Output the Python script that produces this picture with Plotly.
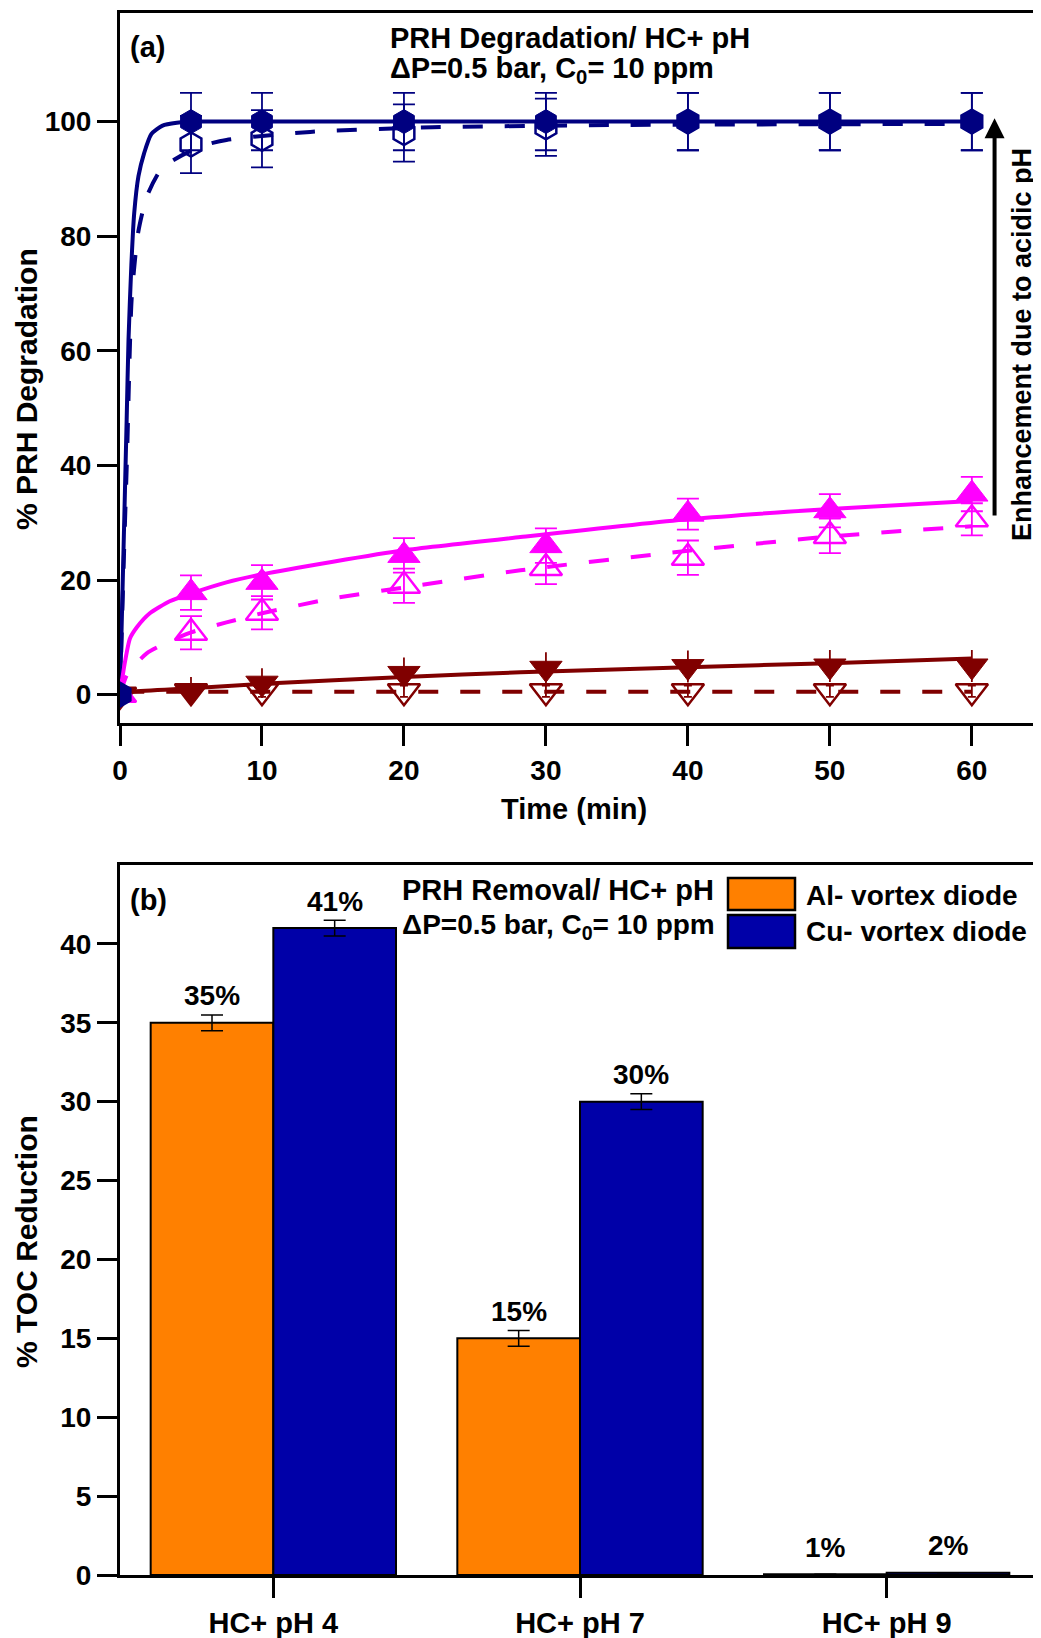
import plotly.graph_objects as go

# page body has an 8px default margin; the figure is placed at (8, 8)
OFF = 8
W, H = 1041 - OFF, 1638 - OFF
FONT = "Liberation Sans, Arial, sans-serif"

# ---------------- Panel (a): % PRH degradation vs time ----------------
time_min = [0, 5, 10, 20, 30, 40, 50, 60]

cu_ph4 = [0, 100, 100, 100, 100, 100, 100, 100]
cu_ph4_err = [0, 5, 5, 5, 5, 5, 5, 5]
al_ph4 = [0, 96, 97, 98, 99, 100, 100, 100]
al_ph4_err = [0, 5, 5, 5, 5, 5, 5, 5]

cu_ph7 = [0, 17.8, 19.6, 24.3, 26.0, 31.5, 32.1, 35.0]
cu_ph7_err = [0, 3, 3, 3, 3, 2.7, 2.9, 3]
al_ph7 = [0, 10.8, 14.3, 19.0, 22.1, 23.9, 27.7, 30.6]
al_ph7_err = [0, 2.9, 2.9, 3, 2.8, 3, 3, 2.8]

cu_ph9 = [0, 0.6, 2.0, 3.7, 4.6, 4.9, 5.0, 5.0]
cu_ph9_err = [0, 2.5, 2.6, 2.8, 2.8, 2.8, 2.8, 2.8]
al_ph9 = [0, 0.6, 0.6, 0.6, 0.6, 0.6, 0.6, 0.6]
al_ph9_err = [0, 1, 1, 1, 1, 1, 1, 1]

# fitted curves
fit_cu_ph4_t = [0, 0.23, 0.47, 0.6, 0.8, 1.0, 1.3, 1.7, 2.2, 3, 4, 5, 60]
fit_cu_ph4_y = [0, 23.5, 48, 62, 75, 84, 90.5, 94.5, 97.8, 99.3, 99.8, 100, 100]
fit_al_ph4_t = [0, 0.25, 0.5, 0.82, 1.27, 1.9, 3, 5.6, 7.5, 13.4, 22, 35, 60]
fit_al_ph4_y = [0, 22, 42, 69, 80.5, 87, 92, 95.6, 96.8, 98.2, 99, 99.4, 99.6]
fit_cu_ph7_t = [0, 0.3, 0.7, 1.2, 2.1, 3.5, 5.05, 7.5, 10, 15, 20, 28.2, 40, 50, 60]
fit_cu_ph7_y = [0, 5, 9.8, 11.8, 14.2, 16.3, 17.7, 19.6, 21, 23.2, 25.2, 27.5, 30.6, 32.4, 33.8]
fit_al_ph7_t = [0, 0.5, 1.88, 3.5, 5.05, 7.5, 10, 15, 20, 28.2, 40, 50, 60]
fit_al_ph7_y = [0, 3.5, 7.2, 9.3, 10.9, 12.6, 14.2, 16.8, 18.7, 21.7, 25.1, 27.6, 29.4]
fit_cu_ph9_t = [0, 0.9, 5, 10, 20, 28.2, 40, 50, 60]
fit_cu_ph9_y = [0, 0.5, 1.1, 1.9, 3.1, 3.9, 4.8, 5.5, 6.3]
fit_al_ph9_t = [0.3, 60]
fit_al_ph9_y = [0.5, 0.5]

# ---------------- Panel (b): % TOC reduction ----------------
categories = ["HC+ pH 4", "HC+ pH 7", "HC+ pH 9"]
al_toc = [35, 15, 0.05]
cu_toc = [41, 30, 0.15]
al_toc_err = [0.5, 0.5, 0]
cu_toc_err = [0.5, 0.5, 0]
al_labels = ["35%", "15%", "1%"]
cu_labels = ["41%", "30%", "2%"]

NAVY = "#000080"
MAG = "#FF00FF"
DRED = "#800000"
ORANGE = "#FF8000"
BLUE = "#0000A8"


def px(xp):
    return (xp - OFF) / W


def py(yp):
    return 1 - (yp - OFF) / H


fig = go.Figure()

fits = [
    (fit_cu_ph4_t, fit_cu_ph4_y, NAVY, "solid"),
    (fit_al_ph4_t, fit_al_ph4_y, NAVY, "20px,22px"),
    (fit_cu_ph7_t, fit_cu_ph7_y, MAG, "solid"),
    (fit_al_ph7_t, fit_al_ph7_y, MAG, "20px,22px"),
    (fit_cu_ph9_t, fit_cu_ph9_y, DRED, "solid"),
    (fit_al_ph9_t, fit_al_ph9_y, DRED, "20px,22px"),
]
for t, y, c, d in fits:
    fig.add_trace(go.Scatter(x=t, y=y, mode="lines",
                             line=dict(color=c, width=4, dash=d, shape="spline", smoothing=0.6),
                             showlegend=False, hoverinfo="skip", xaxis="x", yaxis="y"))


def pts(y, err, color, symbol, open_, capw=11):
    return go.Scatter(
        x=time_min, y=y, mode="markers", showlegend=False,
        marker=dict(symbol=symbol, size=24 if "hexagon" in symbol else 28,
                    color=color, line=dict(color=color, width=2.5 if open_ else 1)),
        error_y=dict(type="data", array=err, color=color, thickness=1.8, width=capw),
        xaxis="x", yaxis="y")


fig.add_trace(pts(al_ph9, al_ph9_err, DRED, "triangle-down-open", True, 4))
fig.add_trace(pts(cu_ph9, cu_ph9_err, DRED, "triangle-down", False, 0))
fig.add_trace(pts(al_ph7, al_ph7_err, MAG, "triangle-up-open", True))
fig.add_trace(pts(cu_ph7, cu_ph7_err, MAG, "triangle-up", False))
fig.add_trace(pts(al_ph4, al_ph4_err, NAVY, "hexagon-open", True))
fig.add_trace(pts(cu_ph4, cu_ph4_err, NAVY, "hexagon", False))

fig.add_trace(go.Bar(x=categories, y=al_toc, name="Al- vortex diode",
                     marker=dict(color=ORANGE, line=dict(color="black", width=2)),
                     error_y=dict(type="data", array=al_toc_err, color="black", thickness=1.5, width=11),
                     showlegend=False, xaxis="x2", yaxis="y2"))
fig.add_trace(go.Bar(x=categories, y=cu_toc, name="Cu- vortex diode",
                     marker=dict(color=BLUE, line=dict(color="black", width=2)),
                     error_y=dict(type="data", array=cu_toc_err, color="black", thickness=1.5, width=11),
                     showlegend=False, xaxis="x2", yaxis="y2"))


def axis_common(size=28):
    return dict(showline=True, linecolor="black", linewidth=3, mirror=True, ticks="outside",
                ticklen=20, tickwidth=3, tickcolor="black", showgrid=False, zeroline=False,
                tickfont=dict(family=FONT, size=size, color="black", weight="bold"), automargin=False)


xd = [px(120), px(1040)]
fig.update_layout(
    width=W, height=H, margin=dict(l=0, r=0, t=0, b=0),
    paper_bgcolor="white", plot_bgcolor="white",
    font=dict(family=FONT, color="black", weight="bold"),
    barmode="group", bargap=0.2, bargroupgap=0,
    xaxis=dict(domain=xd, anchor="y", range=[0, 64.8], tickvals=[0, 10, 20, 30, 40, 50, 60], **axis_common()),
    yaxis=dict(domain=[py(723.3), py(12.7)], anchor="x", range=[-5, 119],
               tickvals=[0, 20, 40, 60, 80, 100], **axis_common()),
    xaxis2=dict(domain=xd, anchor="y2", range=[-0.5, 2.5], **axis_common(29)),
    yaxis2=dict(domain=[py(1575), py(865)], anchor="x2", range=[0, 45],
                tickvals=[0, 5, 10, 15, 20, 25, 30, 35, 40], **axis_common()),
)

ann = []


def txt(text, xpx, ypx, size=29, xanchor="center", yanchor="middle", angle=0):
    ann.append(dict(text=text, x=px(xpx), y=py(ypx), xref="paper", yref="paper", showarrow=False,
                    xanchor=xanchor, yanchor=yanchor, textangle=angle,
                    font=dict(family=FONT, size=size, color="black", weight="bold")))


txt("(a)", 128, 47, xanchor="left")
txt("PRH Degradation/ HC+ pH", 388, 38, xanchor="left")
txt("ΔP=0.5 bar, C<sub>0</sub>= 10 ppm", 388, 70, xanchor="left")
txt("Time (min)", 574, 809, size=29)
txt("% PRH Degradation", 26, 389, size=30, angle=-90)
txt("Enhancement due to acidic pH", 1022, 345, size=27, angle=-90)
ann.append(dict(x=61.6, y=100.6, ax=61.6, ay=31, xref="x", yref="y", axref="x", ayref="y", text="",
                showarrow=True, arrowhead=2, arrowsize=1, arrowwidth=4, arrowcolor="black", standoff=0))

txt("(b)", 128, 900, xanchor="left")
txt("PRH Removal/ HC+ pH", 400, 890, xanchor="left")
txt("ΔP=0.5 bar, C<sub>0</sub>= 10 ppm", 400, 926, size=28, xanchor="left")
txt("% TOC Reduction", 26, 1242, size=30, angle=-90)
txt("Al- vortex diode", 804, 895, size=28, xanchor="left")
txt("Cu- vortex diode", 804, 932, size=28, xanchor="left")

for i, (v, lab) in enumerate(zip(al_toc, al_labels)):
    ann.append(dict(text=lab, x=i - 0.2, y=v, xref="x2", yref="y2", yshift=27, showarrow=False,
                    font=dict(family=FONT, size=28, color="black", weight="bold")))
for i, (v, lab) in enumerate(zip(cu_toc, cu_labels)):
    ann.append(dict(text=lab, x=i + 0.2, y=v, xref="x2", yref="y2", yshift=27, showarrow=False,
                    font=dict(family=FONT, size=28, color="black", weight="bold")))

fig.update_layout(annotations=ann)

shapes = [
    dict(type="rect", xref="paper", yref="paper", x0=px(728), x1=px(795), y0=py(910), y1=py(878),
         fillcolor=ORANGE, line=dict(color="black", width=2.5)),
    dict(type="rect", xref="paper", yref="paper", x0=px(728), x1=px(795), y0=py(948), y1=py(915),
         fillcolor=BLUE, line=dict(color="black", width=2.5)),
]
fig.update_layout(shapes=shapes)

fig.write_html("out.html")
